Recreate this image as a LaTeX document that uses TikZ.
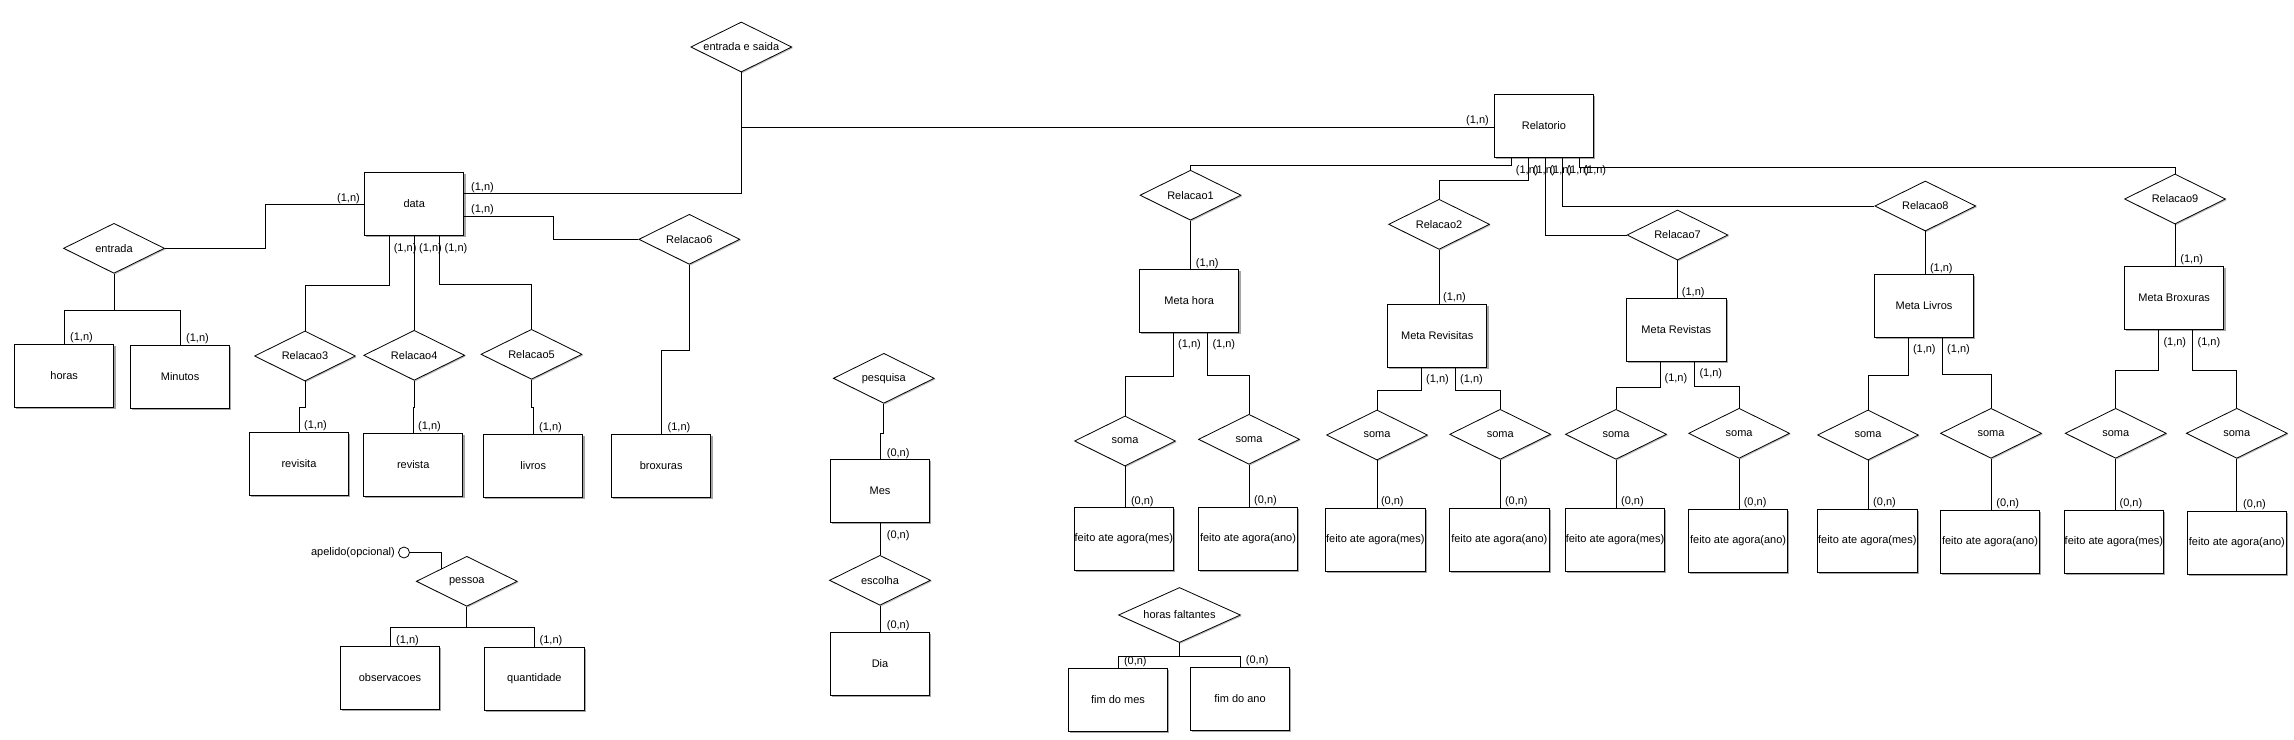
\documentclass[tikz,border=0pt]{standalone}
\usepackage{fontspec}
\setmainfont{Liberation Sans}
\usetikzlibrary{shapes.geometric,shadows}
\tikzset{
  txt/.style={font=\fontsize{11}{13}\selectfont},
  ent/.style={txt, draw, fill=white, line width=1pt, minimum width=99.5pt, minimum height=63pt, inner sep=0pt,
    drop shadow={shadow xshift=1.6pt, shadow yshift=-1.6pt, fill=black!35, opacity=1}},
  rel/.style={txt, diamond, aspect=2, draw, fill=white, line width=0.8pt, minimum width=101pt, minimum height=50pt, inner sep=0pt,
    drop shadow={shadow xshift=1.2pt, shadow yshift=-1.2pt, fill=black!25, opacity=1}},
  card/.style={txt, anchor=west, inner sep=0pt},
  conn/.style={line width=1pt}
}
\begin{document}
\begin{tikzpicture}[x=1pt,y=-1pt]
\fill[white] (0,0) rectangle (2294,739);
\useasboundingbox (0,0) rectangle (2294,739);

% ---------- entities ----------
\node[ent] (horas) at (64.2,375.8) {horas};
\node[ent] (minutos) at (180.1,376.8) {Minutos};
\node[ent] (data) at (414.2,204) {data};
\node[ent] (revisita) at (299,464) {revisita};
\node[ent] (revista) at (413.2,464.8) {revista};
\node[ent] (livros) at (533.2,465.8) {livros};
\node[ent] (broxuras) at (661.2,465.8) {broxuras};
\node[ent] (obs) at (390,677.7) {observacoes};
\node[ent] (quant) at (534.4,678.8) {quantidade};
\node[ent] (mes) at (880,491) {Mes};
\node[ent] (dia) at (880,664) {Dia};
\node[ent] (relat) at (1543.9,125.7) {Relatorio};
\node[ent] (mh) at (1189.2,300.8) {Meta hora};
\node[ent] (mrs) at (1437.2,335.8) {Meta Revisitas};
\node[ent] (mrv) at (1676.3,330) {Meta Revistas};
\node[ent] (ml) at (1924,305.8) {Meta Livros};
\node[ent] (mb) at (2174.2,297.8) {Meta Broxuras};
\node[ent] (f1m) at (1123.8,538.8) {feito ate agora(mes)};
\node[ent] (f1a) at (1248,538.8) {feito ate agora(ano)};
\node[ent] (f2m) at (1375.3,540) {feito ate agora(mes)};
\node[ent] (f2a) at (1499.3,540) {feito ate agora(ano)};
\node[ent] (f3m) at (1615,540) {feito ate agora(mes)};
\node[ent] (f3a) at (1738.1,540.8) {feito ate agora(ano)};
\node[ent] (f4m) at (1867.3,540.8) {feito ate agora(mes)};
\node[ent] (f4a) at (1990,542) {feito ate agora(ano)};
\node[ent] (f5m) at (2113.9,542) {feito ate agora(mes)};
\node[ent] (f5a) at (2236.9,543) {feito ate agora(ano)};
\node[ent] (fmes) at (1118,699.8) {fim do mes};
\node[ent] (fano) at (1240,698.8) {fim do ano};

% ---------- relationships ----------
\node[rel] (es) at (741.3,47) {entrada e saida};
\node[rel] (entrada) at (114,248.3) {entrada};
\node[rel] (r3) at (305,356) {Relacao3};
\node[rel] (r4) at (414.2,355.3) {Relacao4};
\node[rel] (r5) at (531.5,354.3) {Relacao5};
\node[rel] (r6) at (689.3,239.3) {Relacao6};
\node[rel] (pessoa) at (466.8,581.3) {pessoa};
\node[rel] (pesq) at (883.8,378.3) {pesquisa};
\node[rel] (esc) at (880,580.3) {escolha};
\node[rel] (r1) at (1190.5,195.2) {Relacao1};
\node[rel] (r2) at (1439.1,224.3) {Relacao2};
\node[rel] (r7) at (1677.5,235) {Relacao7};
\node[rel] (r8) at (1925.3,206) {Relacao8};
\node[rel] (r9) at (2175,199) {Relacao9};
\node[rel] (s1l) at (1125,441) {soma};
\node[rel] (s1r) at (1249,439.3) {soma};
\node[rel] (s2l) at (1377,435) {soma};
\node[rel] (s2r) at (1500.2,434.3) {soma};
\node[rel] (s3l) at (1616,434.3) {soma};
\node[rel] (s3r) at (1739.1,433.3) {soma};
\node[rel] (s4l) at (1868,435) {soma};
\node[rel] (s4r) at (1991,433.3) {soma};
\node[rel] (s5l) at (2115.7,433.3) {soma};
\node[rel] (s5r) at (2236.8,433.3) {soma};
\node[rel, minimum width=122pt, minimum height=55pt] (hf) at (1179.5,615) {horas faltantes};

% optional attribute
\node[draw, circle, minimum size=11pt, inner sep=0pt, line width=0.8pt] (apc) at (404,552.5) {};
\node[txt, anchor=east, inner sep=0pt] (apt) at (395,552.7) {apelido(opcional)};

% ---------- connectors ----------
\draw[conn] (data.west) -- ++(-98.6,0) |- (entrada.east);
\draw[conn] (entrada.south) -- ++(0,37) -| (horas.north);
\draw[conn] (entrada.south) -- ++(0,37) -| (minutos.north);
\draw[conn] ([yshift=10.7pt]data.east) -| (es.south);
\draw[conn] (es.south) |- ([yshift=-2pt]relat.west);
\draw[conn] ([yshift=-12.7pt]data.east) -- ++(88.7,0) |- (r6.west);
\draw[conn] (r6.south) -- ++(0,86) -| (broxuras.north);
\draw[conn] ([xshift=-24.5pt]data.south) -- ++(0,49.6) -| (r3.north);
\draw[conn] (data.south) -- (r4.north);
\draw[conn] ([xshift=25.5pt]data.south) -- ++(0,48.6) -| (r5.north);
\draw[conn] (r3.south) -- ++(0,26.3) -| (revisita.north);
\draw[conn] (r4.south) -- ++(0,26.4) -| (revista.north);
\draw[conn] (r5.south) -- ++(0,28) -| (livros.north);
\draw[conn] (apc.east) -| (pessoa.north west);
\draw[conn] (pessoa.south) -- ++(0,20.3) -| (obs.north);
\draw[conn] (pessoa.south) -- ++(0,20.3) -| (quant.north);
\draw[conn] (pesq.south) -- ++(0,30) -| (mes.north);
\draw[conn] (mes.south) -- (esc.north);
\draw[conn] (esc.south) -- (dia.north);

\draw[conn] ([xshift=-32.2pt]relat.south) -- ++(0,8) -| (r1.north);
\draw[conn] ([xshift=-15.2pt]relat.south) -- ++(0,23) -| (r2.north);
\draw[conn] ([xshift=1.4pt]relat.south) |- (r7.west);
\draw[conn] ([xshift=18.4pt]relat.south) |- (r8.west);
\draw[conn] ([xshift=35.4pt]relat.south) -- ++(0,10) -| (r9.north);

\draw[conn] (r1.south) -- (r1.south |- mh.north);
\draw[conn] (r2.south) -- (r2.south |- mrs.north);
\draw[conn] (r7.south) -- (r7.south |- mrv.north);
\draw[conn] (r8.south) -- (r8.south |- ml.north);
\draw[conn] (r9.south) -- (r9.south |- mb.north);

\draw[conn] ([xshift=-15.5pt]mh.south) -- ++(0,43.3) -| (s1l.north);
\draw[conn] ([xshift=18.3pt]mh.south) -- ++(0,43) -| (s1r.north);
\draw[conn] ([xshift=-15.7pt]mrs.south) -- ++(0,23) -| (s2l.north);
\draw[conn] ([xshift=17.8pt]mrs.south) -- ++(0,23) -| (s2r.north);
\draw[conn] ([xshift=-15.8pt]mrv.south) -- ++(0,25.6) -| (s3l.north);
\draw[conn] ([xshift=18.1pt]mrv.south) -- ++(0,24.6) -| (s3r.north);
\draw[conn] ([xshift=-15.3pt]ml.south) -- ++(0,37.7) -| (s4l.north);
\draw[conn] ([xshift=18.4pt]ml.south) -- ++(0,37) -| (s4r.north);
\draw[conn] ([xshift=-15.8pt]mb.south) -- ++(0,41) -| (s5l.north);
\draw[conn] ([xshift=18.3pt]mb.south) -- ++(0,41) -| (s5r.north);

\foreach \s/\f in {s1l/f1m,s1r/f1a,s2l/f2m,s2r/f2a,s3l/f3m,s3r/f3a,s4l/f4m,s4r/f4a,s5l/f5m,s5r/f5a}
  \draw[conn] (\s.south) -- (\s.south |- \f.north);

\draw[conn] (hf.south) -- ++(0,13.3) -| (fmes.north);
\draw[conn] (hf.south) -- ++(0,13.3) -| (fano.north);

% ---------- cardinalities ----------
\node[card] at (1466,120.7) {(1,n)};
\node[card] at (471,188) {(1,n)};
\node[card] at (471,210) {(1,n)};
\node[card] at (337,199) {(1,n)};
\node[card] at (393.6,248.3) {(1,n)};
\node[card] at (419,248.3) {(1,n)};
\node[card] at (444.5,248.3) {(1,n)};
\node[card] at (70,338) {(1,n)};
\node[card] at (186,339) {(1,n)};
\node[card] at (304,426) {(1,n)};
\node[card] at (418,427) {(1,n)};
\node[card] at (539,428) {(1,n)};
\node[card] at (667.5,428) {(1,n)};
\node[card] at (396,640.7) {(1,n)};
\node[card] at (539.5,641) {(1,n)};
\node[card] at (886.7,453.3) {(0,n)};
\node[card] at (886.7,535.3) {(0,n)};
\node[card] at (886.7,626) {(0,n)};
\node[card] at (1195.7,263.3) {(1,n)};
\node[card] at (1178,345) {(1,n)};
\node[card] at (1212.3,345) {(1,n)};
\node[card] at (1130.8,501.7) {(0,n)};
\node[card] at (1254,500.7) {(0,n)};
\node[card] at (1123.8,662) {(0,n)};
\node[card] at (1245.7,660.7) {(0,n)};
\node[card] at (1443,297.3) {(1,n)};
\node[card] at (1426,380) {(1,n)};
\node[card] at (1460,380) {(1,n)};
\node[card] at (1380.8,501.7) {(0,n)};
\node[card] at (1504.8,501.7) {(0,n)};
\node[card] at (1681.7,292.7) {(1,n)};
\node[card] at (1664.4,378.3) {(1,n)};
\node[card] at (1699.3,374) {(1,n)};
\node[card] at (1620.9,501.7) {(0,n)};
\node[card] at (1743.6,502.7) {(0,n)};
\node[card] at (1929.8,268.3) {(1,n)};
\node[card] at (1912.8,350) {(1,n)};
\node[card] at (1947,350) {(1,n)};
\node[card] at (1873,502.7) {(0,n)};
\node[card] at (1996.2,503.7) {(0,n)};
\node[card] at (2180.2,260) {(1,n)};
\node[card] at (2163.3,342.3) {(1,n)};
\node[card] at (2197.4,342.3) {(1,n)};
\node[card] at (2119.4,503.7) {(0,n)};
\node[card] at (2243,505) {(0,n)};
\node[card] at (1515.7,170.7) {(1,n)};
\node[card] at (1532.7,170.7) {(1,n)};
\node[card] at (1549.3,170.7) {(1,n)};
\node[card] at (1566.3,170.7) {(1,n)};
\node[card] at (1583.3,170.7) {(1,n)};
\end{tikzpicture}
\end{document}
